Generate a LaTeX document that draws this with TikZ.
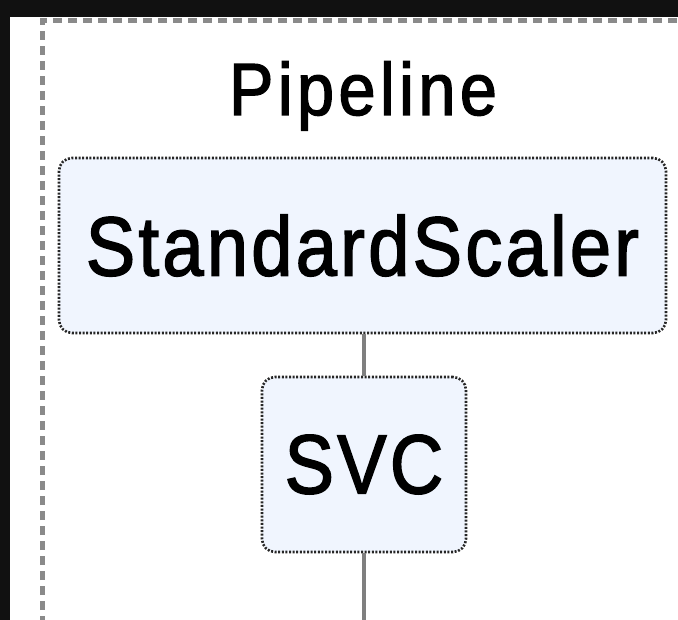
\documentclass[tikz,border=0pt]{standalone}
\usepackage{fontspec}
\setmainfont{Liberation Sans}[FakeStretch=0.88,LetterSpace=4,FakeBold=1.8]
\newfontfamily\titlefont{Liberation Sans}[FakeStretch=0.9,LetterSpace=6,FakeBold=1.8]
\begin{document}
\begin{tikzpicture}[x=1pt,y=-1pt,
  estbox/.style={draw=black!85, line width=2.6pt, dash pattern=on 2pt off 1.6pt, rounded corners=13pt,
    fill=boxfill, inner sep=0pt, font=\fontsize{84}{86}\selectfont},
  link/.style={draw=linkgray, line width=4pt},
  frame/.style={draw=framegray, line width=4.4pt, dash pattern=on 9pt off 6pt}]
\definecolor{boxfill}{HTML}{F0F5FE}
\definecolor{linkgray}{HTML}{7F7F7F}
\definecolor{framegray}{HTML}{8A8A8A}
\definecolor{darkband}{HTML}{111111}
\useasboundingbox (0,0) rectangle (678,620);
\fill[white] (0,0) rectangle (678,620);
\fill[darkband] (0,0) rectangle (678,17);
\fill[darkband] (0,0) rectangle (10,620);
\draw[frame] (42.5,640) -- (42.5,20.5) -- (700,20.5);
\node[font=\titlefont\fontsize{74}{76}\selectfont, anchor=base, inner sep=0pt] (title) at (363,115) {Pipeline};
\node[estbox, minimum width=607pt, minimum height=175pt] (scaler) at (362.5,245.5) {StandardScaler};
\node[estbox, minimum width=204pt, minimum height=175pt] (svc) at (364,464.5) {SVC};
\coordinate (out) at (364,630);
\draw[link] (scaler.south -| svc.north) -- (svc.north);
\draw[link] (svc.south) -- (out);
\end{tikzpicture}
\end{document}
